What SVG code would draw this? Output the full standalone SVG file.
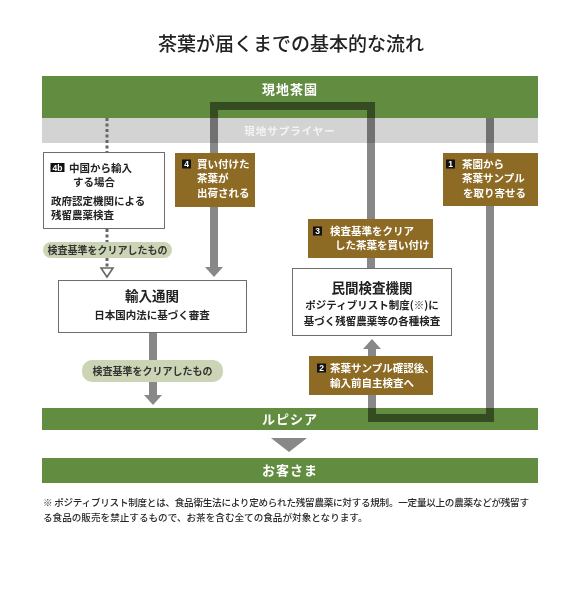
<svg xmlns="http://www.w3.org/2000/svg" width="586" height="592" viewBox="0 0 586 592">
<style>
  text { font-family: "Noto Sans CJK JP", "Noto Sans", sans-serif; }
  .bar { fill: #628c40; }
  .bartxt { fill: #ffffff; font-size: 13px; font-weight: bold; text-anchor: middle; letter-spacing: 1px; }
  .gold { fill: #8e6b25; }
  .gtxt { fill: #ffffff; font-size: 10.5px; font-weight: bold; }
  .badge { fill: #111111; }
  .btxt { fill: #ffffff; font-size: 8.5px; font-weight: bold; text-anchor: middle; font-family: "Liberation Sans", sans-serif; }
  .wbox { fill: #ffffff; stroke: #6e6e6e; stroke-width: 1; }
  .ttl { fill: #222222; font-size: 13.5px; font-weight: bold; text-anchor: middle; }
  .sub { fill: #222222; font-size: 10.5px; font-weight: bold; }
  .pill { fill: #cbd4b5; }
  .ptxt { fill: #333333; font-size: 10px; font-weight: bold; text-anchor: middle; }
  .line { fill: none; stroke: #888888; stroke-width: 8; stroke-linejoin: miter; }
  .head { fill: #888888; }
  .note { fill: #2a2a2a; font-size: 9.6px; font-weight: 500; }
</style>

<rect width="586" height="592" fill="#ffffff"/>

<text x="291" y="51" fill="#222222" font-size="19" font-weight="500" text-anchor="middle">茶葉が届くまでの基本的な流れ</text>

<g id="bar-farm">
  <rect class="bar" x="42" y="76" width="496" height="42"/>
  <text class="bartxt" x="290" y="94">現地茶園</text>
</g>
<g id="bar-supplier">
  <rect x="42" y="118" width="496" height="25" fill="#d3d3d3"/>
  <text x="290" y="135" fill="#f4f4f4" font-size="10.5" font-weight="bold" text-anchor="middle" letter-spacing="1">現地サプライヤー</text>
</g>
<g id="bar-lupicia">
  <rect class="bar" x="42" y="408" width="496" height="22"/>
  <text class="bartxt" x="290" y="424">ルピシア</text>
</g>
<g id="bar-customer">
  <rect class="bar" x="42" y="458" width="496" height="25"/>
  <text class="bartxt" x="290" y="475">お客さま</text>
</g>

<g id="connectors">
  <g style="mix-blend-mode:multiply">
    <path class="line" d="M371,268 V106 H214 V268"/>
    <path class="line" d="M490,118 V418 H372 V349"/>
    <path class="line" d="M153,333 V396"/>
  </g>
  <polygon class="head" points="205,267 223,267 214,277"/>
  <polygon class="head" points="363,349 381,349 372,339"/>
  <polygon class="head" points="144,395 162,395 153,405"/>
  <polygon class="head" points="271,438 307,438 289,452"/>
  <path d="M107,118 V152 M107,229 V242 M107,258 V267" fill="none" stroke="#666666" stroke-width="3" stroke-dasharray="3 2.5"/>
  <polygon points="101,268 113,268 107,277" fill="#ffffff" stroke="#666666" stroke-width="1.6"/>
</g>

<g id="node-4b">
  <rect class="wbox" x="43.5" y="152.5" width="121" height="76"/>
  <rect class="badge" x="50.5" y="163" width="14" height="9"/>
  <text class="btxt" x="57.5" y="170.5">4b</text>
  <text class="sub" x="69" y="172" font-size="11">中国から輸入</text>
  <text class="sub" x="73" y="186" font-size="11">する場合</text>
  <text class="sub" x="51" y="205" font-size="11">政府認定機関による</text>
  <text class="sub" x="51" y="219" font-size="11">残留農薬検査</text>
</g>

<g id="pill-1">
  <rect class="pill" x="43" y="242" width="129" height="16" rx="8"/>
  <text class="ptxt" x="107.5" y="254">検査基準をクリアしたもの</text>
</g>

<g id="node-4">
  <rect class="gold" x="175" y="153" width="80" height="54"/>
  <rect class="badge" x="182" y="159.5" width="9" height="9"/>
  <text class="btxt" x="186.5" y="167">4</text>
  <text class="gtxt" x="197" y="168">買い付けた</text>
  <text class="gtxt" x="197" y="182">茶葉が</text>
  <text class="gtxt" x="197" y="197">出荷される</text>
</g>

<g id="node-1">
  <rect class="gold" x="443" y="153" width="95" height="53"/>
  <rect class="badge" x="446" y="159.5" width="9" height="9"/>
  <text class="btxt" x="450.5" y="167">1</text>
  <text class="gtxt" x="462" y="168">茶園から</text>
  <text class="gtxt" x="462" y="182">茶葉サンプル</text>
  <text class="gtxt" x="463" y="197">を取り寄せる</text>
</g>

<g id="node-3">
  <rect class="gold" x="308" y="219" width="125" height="39"/>
  <rect class="badge" x="313" y="226.5" width="9" height="9"/>
  <text class="btxt" x="317.5" y="234">3</text>
  <text class="gtxt" x="330" y="235">検査基準をクリア</text>
  <text class="gtxt" x="335" y="249">した茶葉を買い付け</text>
</g>

<g id="node-customs">
  <rect class="wbox" x="58.5" y="280.5" width="188" height="52"/>
  <text class="ttl" x="152" y="301">輸入通関</text>
  <text class="sub" x="152" y="319" text-anchor="middle">日本国内法に基づく審査</text>
</g>

<g id="node-lab">
  <rect class="wbox" x="292.5" y="268.5" width="159" height="67"/>
  <text class="ttl" x="372" y="293">民間検査機関</text>
  <text class="sub" x="372" y="309" text-anchor="middle">ポジティブリスト制度(※)に</text>
  <text class="sub" x="372" y="325" text-anchor="middle">基づく残留農薬等の各種検査</text>
</g>

<g id="pill-2">
  <rect class="pill" x="82" y="360" width="141" height="22" rx="10"/>
  <text class="ptxt" x="152.5" y="375">検査基準をクリアしたもの</text>
</g>

<g id="node-2">
  <rect class="gold" x="309" y="356" width="124" height="39"/>
  <rect class="badge" x="317" y="363.5" width="9" height="9"/>
  <text class="btxt" x="321.5" y="371">2</text>
  <text class="gtxt" x="330" y="372">茶葉サンプル確認後、</text>
  <text class="gtxt" x="330" y="387">輸入前自主検査へ</text>
</g>

<g id="footnote">
  <text class="note" x="43" y="506" textLength="486" lengthAdjust="spacing">※ ポジティブリスト制度とは、食品衛生法により定められた残留農薬に対する規制。一定量以上の農薬などが残留す</text>
  <text class="note" x="43" y="521">る食品の販売を禁止するもので、お茶を含む全ての食品が対象となります。</text>
</g>
</svg>
